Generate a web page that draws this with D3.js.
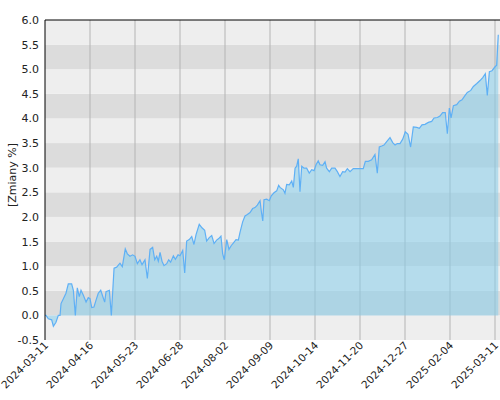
<!DOCTYPE html><html><head><meta charset="utf-8">
<script src="https://cdn.jsdelivr.net/npm/d3@7"></script>
<style>body{margin:0;background:#fff}</style></head><body><svg id="c" width="500" height="400"></svg>
<script>
const dayOffsets=[0,0.8,2.7,5.4,6.8,8.9,10.8,12.2,13,14.9,17,18.9,21.6,23,24.6,26.2,27.8,29.2,31.1,33.3,35.1,36.5,37.9,39.7,41.4,43.2,45.2,46.8,48.4,49.5,52.2,53.8,56,58.1,60.8,62.7,65.1,66.8,68.9,71.1,73,74.9,77,78.7,81.1,83,85.2,87.3,89,90.6,91.9,93.3,94.9,96.5,98.7,100.3,101.9,104.1,105.7,107.9,109.5,111.7,113.3,114.9,117,119,120.8,122.5,125.1,127.3,129.5,131.1,133.2,135.2,137.1,139.2,140.9,142.7,144.1,145.4,147.4,149.2,151.1,152.7,154.9,156.8,158.1,160.3,162.2,164.1,166.3,168.4,170.3,172.2,174.4,175.4,176.6,177.6,179.8,181.9,183.5,185.7,187.9,189.5,190.6,193.3,194.6,196,198.1,200.1,201.4,202.8,204.1,205.4,206.8,208.2,210.1,212.2,214.3,216.3,218.2,219.8,221.6,223,225.2,227.1,228.4,230.6,232.5,235.2,237.1,239.2,241.4,243.3,245.2,247.4,250,254.1,258.1,259.8,262.2,264.9,267.6,269.5,271.1,273.1,274.9,277.1,279.8,282,283.9,285.7,287.9,290.1,292.2,294.4,296.5,298.7,301.5,303.6,305.7,308.2,310.9,313.6,315.5,318.2,320.3,322.5,324.6,326.3,327.9,329.3,331.2,333.9,336.1,338.2,340.7,342.5,345.3,347.4,350.2,352.8,355,357.1,358.7,360.4,362.5,365,366.3,367.6];
const changes=[0,0,-0.07,-0.09,-0.22,-0.14,0,0,0.24,0.34,0.45,0.64,0.64,0.51,0,0.56,0.38,0.51,0.41,0.27,0.36,0.34,0.16,0.17,0.31,0.45,0.51,0.39,0.27,0.48,0.51,0,0.96,0.98,1.06,0.99,1.35,1.25,1.2,1.23,1.2,1.05,1.13,1.03,1.13,0.75,1.34,1.38,1.13,1.2,1.1,1.28,1.1,1.01,1.05,1.13,1.08,1.21,1.14,1.23,1.21,1.32,0.86,1.51,1.54,1.6,1.44,1.64,1.85,1.78,1.73,1.51,1.58,1.62,1.46,1.53,1.56,1.61,1.25,1.13,1.54,1.34,1.42,1.47,1.54,1.53,1.68,1.9,2.02,2.05,2.09,2.17,2.19,2.24,2.33,2.12,1.92,2.35,2.36,2.33,2.43,2.49,2.53,2.64,2.6,2.55,2.48,2.66,2.65,2.73,2.6,2.99,3.03,3.18,2.51,3.03,2.99,2.99,2.89,2.96,2.94,3.06,3.14,3.06,3.05,3.12,2.99,2.92,2.99,2.99,2.92,2.82,2.92,2.91,2.98,2.92,2.98,2.98,2.98,3.13,3.13,3.16,3.27,2.89,3.42,3.44,3.46,3.53,3.61,3.51,3.46,3.49,3.49,3.58,3.73,3.68,3.42,3.83,3.82,3.8,3.87,3.88,3.92,3.94,4.01,4.02,4.05,4.12,4.12,3.69,4.21,4.01,4.26,4.28,4.35,4.38,4.47,4.53,4.57,4.65,4.71,4.77,4.83,4.91,4.47,4.95,4.97,5.05,5.08,5.7];
const tickLabels=["2024-03-11","2024-04-16","2024-05-23","2024-06-28","2024-08-02","2024-09-09","2024-10-14","2024-11-20","2024-12-27","2025-02-04","2025-03-11"];
const yTicks=[-0.5,0,0.5,1,1.5,2,2.5,3,3.5,4,4.5,5,5.5,6];

const L=45,R=500,T=20,B=340;
const svg=d3.select("#c");
const x=d3.scaleLinear().domain([0,369]).range([L,R]);
const y=d3.scaleLinear().domain([-0.5,6]).range([B,T]);
const xt=d3.scalePoint().domain(tickLabels).range([L,L+450]);
for(let i=0;i<yTicks.length-1;i++){
  const v=yTicks[i];
  svg.append("rect").attr("x",L).attr("width",R-L).attr("y",y(yTicks[i+1])).attr("height",y(v)-y(yTicks[i+1]))
    .attr("fill",(Number.isInteger(v)?"#dcdcdc":"#eeeeee"));
}
svg.append("g").selectAll("line").data(tickLabels.slice(1)).join("line")
  .attr("x1",d=>xt(d)).attr("x2",d=>xt(d)).attr("y1",T).attr("y2",B).attr("stroke","#b4b4b4").attr("stroke-width",1);
const data=dayOffsets.map((d,i)=>[d,changes[i]]);
svg.append("path").datum(data).attr("fill","rgba(135,206,235,0.55)")
  .attr("d",d3.area().x(d=>x(d[0])).y0(y(0)).y1(d=>y(d[1])));
svg.append("path").datum(data).attr("fill","none").attr("stroke","#5fb0f5").attr("stroke-width",1.2)
  .attr("d",d3.line().x(d=>x(d[0])).y(d=>y(d[1])));
svg.append("line").attr("x1",L).attr("x2",L).attr("y1",T).attr("y2",B).attr("stroke","#000");
svg.append("line").attr("x1",L).attr("x2",R).attr("y1",T).attr("y2",T).attr("stroke","#000");
svg.append("g").selectAll("text").data(yTicks).join("text")
  .attr("x",L-6).attr("y",d=>y(d)+4).attr("text-anchor","end").attr("font-family","DejaVu Sans").attr("font-size",11).attr("fill","#222")
  .text(d=>d.toFixed(1));
svg.append("g").selectAll("text").data(tickLabels).join("text")
  .attr("text-anchor","end").attr("font-family","DejaVu Sans").attr("font-size",10.5).attr("fill","#222")
  .attr("transform",d=>`translate(${xt(d)+4},${B+6}) rotate(-45)`)
  .text(d=>d);
svg.append("text").attr("transform",`translate(16,${(T+B)/2-5}) rotate(-90)`).attr("text-anchor","middle")
  .attr("font-family","DejaVu Sans").attr("font-size",11).attr("fill","#222").text("[Zmiany %]");
</script></body></html>
